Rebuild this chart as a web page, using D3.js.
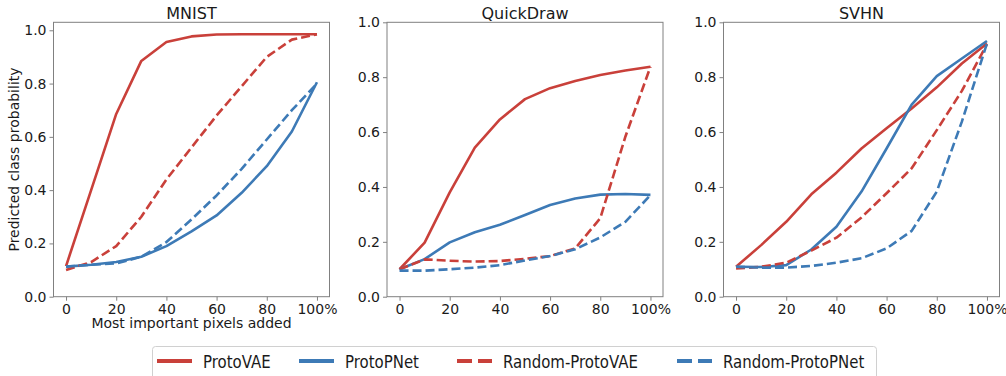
<!DOCTYPE html>
<html>
<head>
<meta charset="utf-8">
<script src="https://cdn.jsdelivr.net/npm/d3@7"></script>
<style>
  body { margin: 0; background: #fff; }
  svg { font-family: "DejaVu Sans", sans-serif; }
</style>
</head>
<body>
<svg id="chart" width="1006" height="376"></svg>
<script>
// fraction of most important pixels added (x)
const steps = [0, 10, 20, 30, 40, 50, 60, 70, 80, 90, 100];
const datasets = ["MNIST", "QuickDraw", "SVHN"];
const seriesNames = ["ProtoVAE", "ProtoPNet", "Random-ProtoVAE", "Random-ProtoPNet"];
const xTicks = [0, 20, 40, 60, 80, 100];
const yTicks = [0, 0.2, 0.4, 0.6, 0.8, 1.0];

// MNIST
const mnistProtoVAE = [0.115, 0.40, 0.686, 0.885, 0.956, 0.977, 0.984, 0.985, 0.985, 0.985, 0.985];
const mnistProtoPNet = [0.113, 0.12, 0.13, 0.15, 0.19, 0.245, 0.305, 0.39, 0.49, 0.62, 0.805];
const mnistRandVAE = [0.10, 0.13, 0.19, 0.30, 0.44, 0.56, 0.68, 0.79, 0.90, 0.965, 0.985];
const mnistRandPNet = [0.113, 0.12, 0.125, 0.15, 0.205, 0.29, 0.38, 0.48, 0.59, 0.70, 0.80];

// QuickDraw
const quickProtoVAE = [0.10, 0.197, 0.38, 0.543, 0.646, 0.72, 0.76, 0.786, 0.808, 0.824, 0.838];
const quickProtoPNet = [0.10, 0.137, 0.198, 0.235, 0.262, 0.298, 0.334, 0.358, 0.372, 0.374, 0.371];
const quickRandVAE = [0.10, 0.136, 0.131, 0.128, 0.13, 0.138, 0.148, 0.176, 0.286, 0.583, 0.838];
const quickRandPNet = [0.095, 0.095, 0.10, 0.106, 0.115, 0.132, 0.148, 0.173, 0.216, 0.273, 0.37];

// SVHN
const svhnProtoVAE = [0.109, 0.188, 0.273, 0.373, 0.452, 0.54, 0.614, 0.686, 0.763, 0.85, 0.923];
const svhnProtoPNet = [0.109, 0.108, 0.115, 0.172, 0.255, 0.383, 0.54, 0.70, 0.804, 0.868, 0.932];
const svhnRandVAE = [0.103, 0.109, 0.124, 0.168, 0.215, 0.289, 0.377, 0.468, 0.607, 0.75, 0.92];
const svhnRandPNet = [0.109, 0.106, 0.106, 0.112, 0.124, 0.14, 0.176, 0.24, 0.383, 0.638, 0.923];

const panelData = [
    [mnistProtoVAE, mnistProtoPNet, mnistRandVAE, mnistRandPNet],
    [quickProtoVAE, quickProtoPNet, quickRandVAE, quickRandPNet],
    [svhnProtoVAE, svhnProtoPNet, svhnRandVAE, svhnRandPNet]
];
const yMax = [1.03, 1.0, 1.0];

const red = "#c9403a";
const blue = "#3d7ab6";
const colors = [red, blue, red, blue];
const dashed = [false, false, true, true];

const svg = d3.select("#chart");
const lefts = [53.5, 387, 723.5];
const panelTop = 22.3, w = 276, h = 274.4;
const spine = "#808080";
const textColor = "#1a1a1a";

datasets.forEach((name, p) => {
    const x = d3.scaleLinear().domain([-5, 105]).range([0, w]);
    const y = d3.scaleLinear().domain([0, yMax[p]]).range([h, 0]);

    const g = svg.append("g")
        .attr("transform", "translate(" + lefts[p] + "," + panelTop + ")");

    // lines
    const line = d3.line()
        .x((d, i) => x(steps[i]))
        .y((d) => y(d));

    panelData[p].forEach((vals, s) => {
        g.append("path")
            .datum(vals)
            .attr("d", line)
            .attr("fill", "none")
            .attr("stroke", colors[s])
            .attr("stroke-width", 2.6)
            .attr("stroke-linejoin", "round")
            .attr("stroke-dasharray", dashed[s] ? "9,4" : null);
    });

    // frame
    g.append("rect")
        .attr("width", w).attr("height", h)
        .attr("fill", "none")
        .attr("stroke", spine)
        .attr("stroke-width", 1);

    // axes
    const xAxis = g.append("g")
        .attr("transform", "translate(0," + h + ")")
        .call(d3.axisBottom(x).tickValues(xTicks)
            .tickSize(4).tickPadding(3)
            .tickFormat((d) => d === 100 ? "100%" : d));
    const yAxis = g.append("g")
        .call(d3.axisLeft(y).tickValues(yTicks)
            .tickSize(4).tickPadding(3)
            .tickFormat(d3.format(".1f")));

    [xAxis, yAxis].forEach((a) => {
        a.select(".domain").remove();
        a.selectAll("line").attr("stroke", spine);
        a.selectAll("text")
            .attr("fill", textColor)
            .style("font-size", "14px")
            .style("font-family", "DejaVu Sans");
    });

    // title
    g.append("text")
        .attr("x", w / 2).attr("y", -3.5)
        .attr("text-anchor", "middle")
        .attr("fill", textColor)
        .style("font-size", "16px")
        .text(name);

    if (p === 0) {
        g.append("text")
            .attr("x", x(50)).attr("y", h + 31)
            .attr("text-anchor", "middle")
            .attr("fill", textColor)
            .style("font-size", "14px")
            .text("Most important pixels added");
        g.append("text")
            .attr("transform", "translate(" + (-35) + "," + (h / 2) + ") rotate(-90)")
            .attr("text-anchor", "middle")
            .attr("fill", textColor)
            .style("font-size", "14px")
            .text("Predicted class probability");
    }
});

// legend
const legendTextX = [203, 345, 503, 723];
const legend = svg.append("g");
legend.append("rect")
    .attr("x", 152.5).attr("y", 346.5)
    .attr("width", 724).attr("height", 40)
    .attr("rx", 3)
    .attr("fill", "#fff")
    .attr("stroke", "#d0d0d0");

seriesNames.forEach((name, s) => {
    const tx = legendTextX[s];
    legend.append("line")
        .attr("x1", tx - 46).attr("x2", tx - 11)
        .attr("y1", 361).attr("y2", 361)
        .attr("stroke", colors[s])
        .attr("stroke-width", 4)
        .attr("stroke-dasharray", dashed[s] ? "15,6" : null);
    // legend labels look slightly condensed in the source
    legend.append("text")
        .attr("transform", "translate(" + tx + ",367.5) scale(0.88,1)")
        .attr("fill", textColor)
        .style("font-size", "17px")
        .text(name);
});
</script>
</body>
</html>
